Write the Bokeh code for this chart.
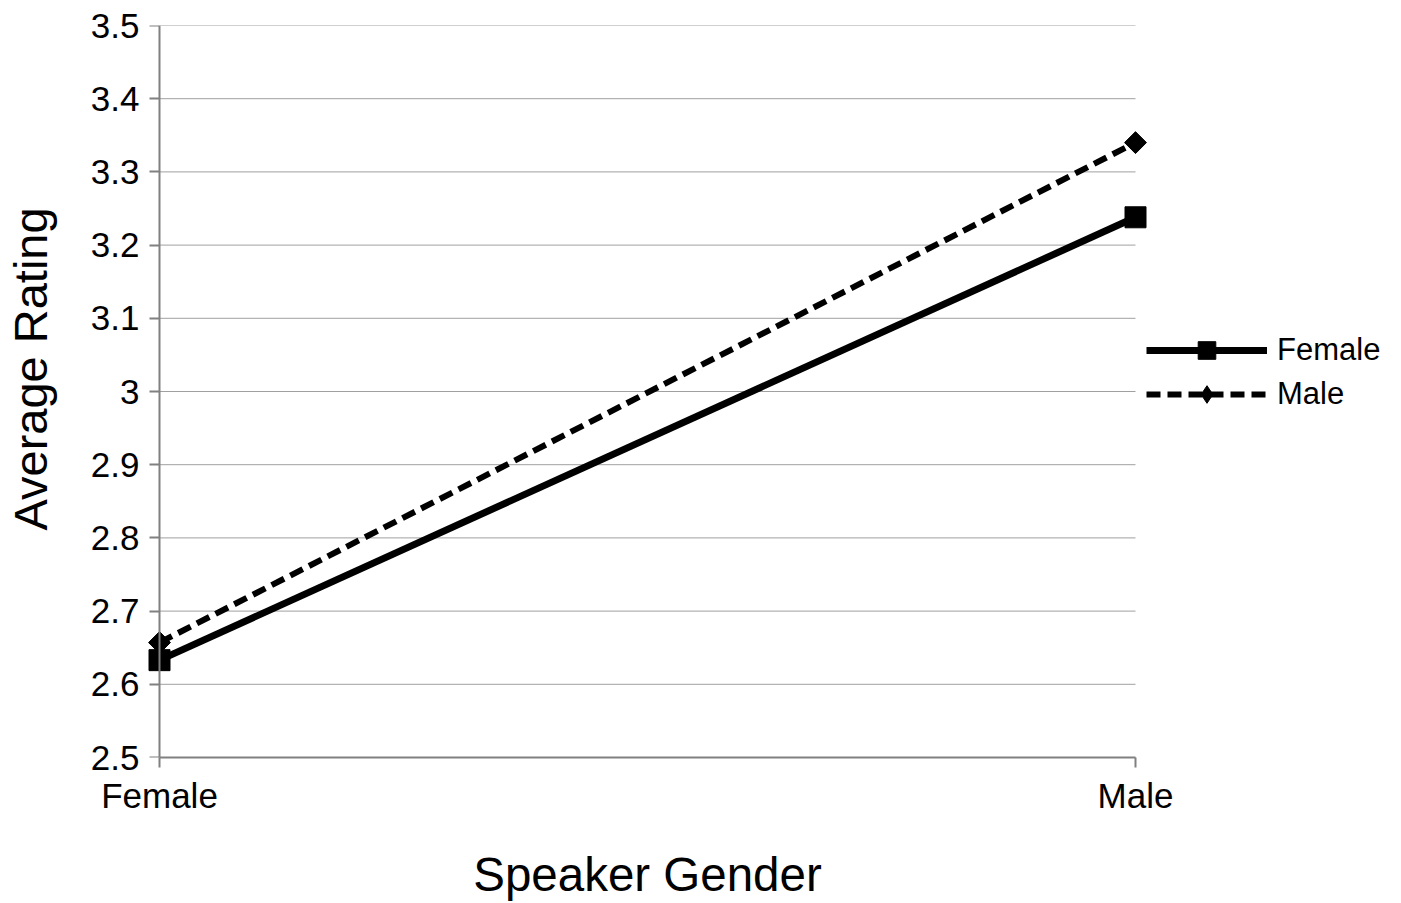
from bokeh.plotting import figure
from bokeh.models import (Range1d, FixedTicker, Legend, LegendItem, ColumnDataSource, LinearAxis, Title)
from bokeh.embed import file_html
from bokeh.resources import INLINE

# ---- data ----
categories = ["Female", "Male"]            # speaker gender (x axis)
female_rating = [2.633, 3.238]             # listener group: Female
male_rating = [2.657, 3.340]               # listener group: Male
y_ticks = [2.5, 2.6, 2.7, 2.8, 2.9, 3.0, 3.1, 3.2, 3.3, 3.4, 3.5]
y_tick_labels = ["2.5", "2.6", "2.7", "2.8", "2.9", "3", "3.1", "3.2", "3.3", "3.4", "3.5"]

FONT = "Liberation Sans"
GRAY = "#808080"
xs = list(range(len(categories)))
last = len(categories) - 1

# layout constants (pixels)
SPAN_PX = 976          # distance between first and last category
PAD_PX = 12            # room so markers at the ends are not clipped
pad = PAD_PX / SPAN_PX

p = figure(frame_width=SPAN_PX + 2 * PAD_PX, frame_height=732,
           min_border_left=159 - PAD_PX, min_border_right=248,
           min_border_top=25, min_border_bottom=138,
           x_range=Range1d(-pad, last + pad), y_range=Range1d(y_ticks[0], y_ticks[-1]),
           output_backend="svg", toolbar_location=None)
p.outline_line_color = None
p.background_fill_color = "white"
p.border_fill_color = "white"
p.xgrid.visible = False
p.ygrid.visible = False
p.styles = {"border-right": "1px solid #c9d1de"}

# gridlines between first and last category
p.segment(x0=[xs[0]] * len(y_ticks), x1=[xs[-1]] * len(y_ticks), y0=y_ticks, y1=y_ticks,
          line_color="#a0a0a0", line_width=1)

def style_text(ax):
    ax.major_label_text_font = FONT
    ax.major_label_text_font_size = "35px"
    ax.major_label_text_color = "black"
    ax.axis_label_text_font = FONT
    ax.axis_label_text_font_size = "47px"
    ax.axis_label_text_font_style = "normal"
    ax.axis_label_text_color = "black"

# x axis (line + ticks + category labels)
xa = p.xaxis[0]
xa.ticker = FixedTicker(ticks=xs)
xa.bounds = (xs[0], xs[-1])
xa.major_label_overrides = {i: c for i, c in enumerate(categories)}
xa.axis_line_color = GRAY
xa.axis_line_width = 2
xa.major_tick_line_color = GRAY
xa.major_tick_line_width = 2
xa.major_tick_out = 10
xa.major_tick_in = 0
xa.minor_tick_line_color = None
xa.major_label_standoff = 8
style_text(xa)

# x title (label-only axis)
xt = LinearAxis(ticker=FixedTicker(ticks=[]),
                axis_line_color=None, major_tick_line_color=None, minor_tick_line_color=None,
                major_tick_out=0, major_label_standoff=0,
                axis_label="Speaker Gender", axis_label_standoff=30)
style_text(xt)
xt.axis_label_text_font_size = "47.5px"
p.add_layout(xt, "below")

# y tick labels (at the frame edge, line and ticks hidden)
ya = p.yaxis[0]
ya.ticker = FixedTicker(ticks=y_ticks)
ya.major_label_overrides = {t: l for t, l in zip(y_ticks, y_tick_labels)}
ya.axis_line_color = None
ya.major_tick_line_color = None
ya.minor_tick_line_color = None
ya.major_tick_out = 0
ya.major_tick_in = 0
ya.major_label_standoff = 8
style_text(ya)

# empty spacer between tick labels and the y title
sp = LinearAxis(ticker=FixedTicker(ticks=[]),
                axis_line_color=None, major_tick_line_color=None, minor_tick_line_color=None,
                major_tick_out=0, major_tick_in=0, major_label_standoff=0,
                axis_label="\u00a0", axis_label_standoff=26,
                axis_label_text_font=FONT, axis_label_text_font_size="1px")
p.add_layout(sp, "left")

# y title, started a fixed distance above the frame bottom
yt = Title(text="Average Rating", align="left", vertical_align="bottom",
           offset=227, standoff=2,
           text_font=FONT, text_font_size="47px", text_font_style="normal", text_color="black")
p.add_layout(yt, "left")

# visible y axis line and ticks, placed at the first category
yl = LinearAxis(ticker=FixedTicker(ticks=y_ticks), fixed_location=xs[0],
                major_label_overrides={t: "" for t in y_ticks},
                axis_line_color=GRAY, axis_line_width=2,
                major_tick_line_color=GRAY, major_tick_line_width=2,
                major_tick_out=10, major_tick_in=0, minor_tick_line_color=None,
                major_label_text_alpha=0)
p.add_layout(yl, "left")

src = ColumnDataSource(dict(x=xs, f=female_rating, m=male_rating))

lf = p.line("x", "f", source=src, line_color="black", line_width=7)
lm = p.line("x", "m", source=src, line_color="black", line_width=6, line_dash="14 7")
sf = p.scatter("x", "f", source=src, marker="square", size=21, color="black")
# diamond used for the legend; hidden under the rotated square in the plot
dm = p.scatter("x", "m", source=src, marker="diamond", size=20, color="black")
sm = p.scatter("x", "m", source=src, marker="square", angle=0.785398, size=15.5, color="black")

legend = Legend(items=[LegendItem(label="Female", renderers=[lf, sf]),
                       LegendItem(label="Male", renderers=[lm, dm])],
                location=(-1, 341), orientation="vertical")
legend.glyph_width = 121
legend.glyph_height = 44
legend.label_standoff = 10
legend.spacing = 0
legend.padding = 0
legend.margin = 0
legend.border_line_color = None
legend.background_fill_alpha = 0
legend.label_text_font = FONT
legend.label_text_font_size = "31px"
legend.label_text_color = "black"
legend.label_text_baseline = "middle"
p.add_layout(legend, "right")

open("out.html", "w").write(file_html(p, INLINE))
